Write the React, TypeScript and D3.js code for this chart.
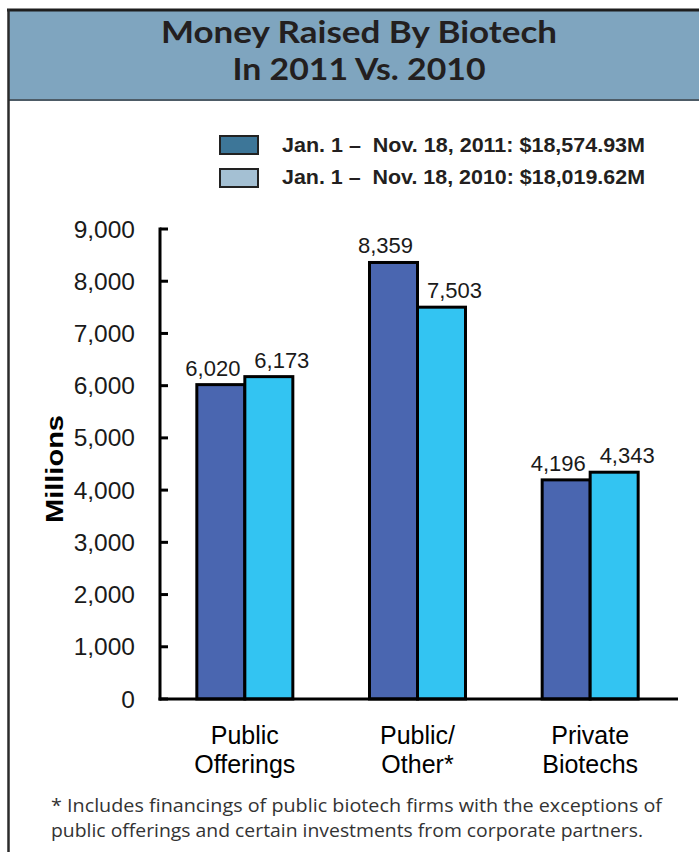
import React from "react";
import * as d3 from "d3";

const categories = ["Public Offerings", "Public/ Other*", "Private Biotechs"];
const categoryLines = [["Public", "Offerings"], ["Public/", "Other*"], ["Private", "Biotechs"]];
const series = ["2011", "2010"];
const values2011 = [6020, 8359, 4196];
const values2010 = [6173, 7503, 4343];
const valueLabels2011 = ["6,020", "8,359", "4,196"];
const valueLabels2010 = ["6,173", "7,503", "4,343"];
const yTicks = [0, 1000, 2000, 3000, 4000, 5000, 6000, 7000, 8000, 9000];
const legendLabels = ["Jan. 1 \u2013  Nov. 18, 2011: $18,574.93M", "Jan. 1 \u2013  Nov. 18, 2010: $18,019.62M"];
const titleLines = ["Money Raised By Biotech", "In 2011 Vs. 2010"];
const titleWidths = [396, 253];
const footnoteLines = [
  "* Includes financings of public biotech firms with the exceptions of",
  "public offerings and certain investments from corporate partners.",
];

const W = 699;
const H = 852;
const barColors = ["#4a66b0", "#33c4f2"];
const legendColors = ["#3d7698", "#a4c0d3"];
const labelDx = [-8, 13];

export default function App() {
  const x0 = d3.scaleBand<string>().domain(categories).range([158.5, 676.5]).paddingInner(0.444).paddingOuter(0.222);
  const x1 = d3.scaleBand<string>().domain(series).range([0, x0.bandwidth()]);
  const y = d3.scaleLinear().domain([0, 9000]).range([699, 229]);
  const data = [values2011, values2010];
  const labels = [valueLabels2011, valueLabels2010];
  const fmt = d3.format(",");
  const sans = "'Liberation Sans', Arial, sans-serif";

  return (
    <svg width={W} height={H} style={{ position: "absolute", left: 0, top: 0, background: "#fff" }}>
      {/* frame & title band */}
      <rect x={8.5} y={10} width={W} height={90} fill="#7fa5bf" />
      <line x1={8.5} x2={W} y1={100} y2={100} stroke="#4d5b66" strokeWidth={2} />
      <line x1={7} x2={W} y1={10} y2={10} stroke="#1e1e1e" strokeWidth={3} />
      <line x1={8.5} x2={8.5} y1={9} y2={H} stroke="#2b2b2b" strokeWidth={2.5} />
      {titleLines.map((t, i) => (
        <text key={t} x={359} y={43 + i * 37} textAnchor="middle" fontFamily="Lato, 'Open Sans', sans-serif" fontWeight={700} fontSize={30} fill="#231f20" textLength={titleWidths[i]} lengthAdjust="spacingAndGlyphs">
          {t}
        </text>
      ))}

      {/* legend */}
      {legendLabels.map((t, i) => (
        <g key={t}>
          <rect x={220} y={136 + i * 33} width={38} height={18} fill={legendColors[i]} stroke="#222" strokeWidth={2} />
          <text x={282} y={152 + i * 32} fontFamily={sans} fontWeight={700} fontSize={21} fill="#231f20" style={{ whiteSpace: "pre" }} textLength={363} lengthAdjust="spacingAndGlyphs">
            {t}
          </text>
        </g>
      ))}

      {/* y axis */}
      <line x1={160} x2={160} y1={y(9000) - 1.5} y2={y(0) + 1.5} stroke="#000" strokeWidth={3} />
      {yTicks.map((v) => (
        <g key={v}>
          <line x1={160} x2={168} y1={y(v)} y2={y(v)} stroke="#000" strokeWidth={3} />
          <text x={135} y={y(v)} dy="0.35em" textAnchor="end" fontFamily={sans} fontSize={24.5} fill="#1a1a1a">
            {fmt(v)}
          </text>
        </g>
      ))}
      <text transform={`translate(63,469) rotate(-90)`} textAnchor="middle" fontFamily={sans} fontWeight={700} fontSize={23} fill="#000" textLength={108} lengthAdjust="spacingAndGlyphs">
        Millions
      </text>

      {/* bars */}
      {categories.map((c, ci) => (
        <g key={c} transform={`translate(${x0(c)},0)`}>
          {series.map((s, si) => {
            const v = data[si][ci];
            return (
              <g key={s}>
                <rect x={x1(s)} y={y(v)} width={x1.bandwidth()} height={y(0) - y(v)} fill={barColors[si]} stroke="#000" strokeWidth={3} />
                <text x={(x1(s) as number) + x1.bandwidth() / 2 + labelDx[si]} y={y(v) - 9} textAnchor="middle" fontFamily={sans} fontSize={22} fill="#1a1a1a">
                  {labels[si][ci]}
                </text>
              </g>
            );
          })}
        </g>
      ))}

      {/* x axis */}
      <line x1={158.5} x2={678} y1={y(0)} y2={y(0)} stroke="#000" strokeWidth={3} />
      {categories.map((c, ci) => (
        <g key={c}>
          {categoryLines[ci].map((l, li) => (
            <text key={l} x={(x0(c) as number) + x0.bandwidth() / 2} y={744 + li * 29} textAnchor="middle" fontFamily={sans} fontSize={25} fill="#000">
              {l}
            </text>
          ))}
        </g>
      ))}

      {/* footnote */}
      {footnoteLines.map((l, i) => (
        <text key={l} x={51} y={812 + i * 25} fontFamily="'Open Sans', sans-serif" fontSize={19} fill="#333" textLength={i === 0 ? 611 : 592} lengthAdjust="spacingAndGlyphs">
          {l}
        </text>
      ))}
    </svg>
  );
}
